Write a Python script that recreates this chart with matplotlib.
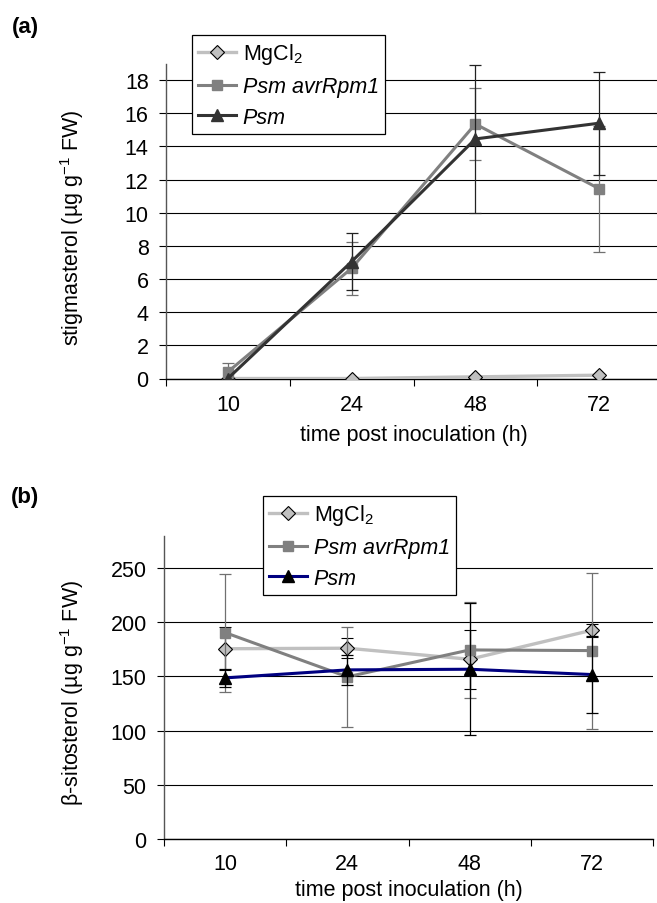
import matplotlib
matplotlib.use("Agg")
import matplotlib.pyplot as plt
from matplotlib.ticker import FixedLocator, NullFormatter

plt.rcParams['font.family'] = ['Liberation Sans', 'DejaVu Sans']
plt.rcParams['mathtext.fontset'] = 'custom'
plt.rcParams['mathtext.rm'] = 'Liberation Sans'
plt.rcParams['mathtext.it'] = 'Liberation Sans:italic'

# ---------------- data ----------------
times = ["10", "24", "48", "72"]

# (a) stigmasterol
stig_mgcl2 = [0.0, 0.0, 0.1, 0.2]
stig_mgcl2_err = [0.0, 0.0, 0.0, 0.0]
stig_avr = [0.4, 6.65, 15.35, 11.45]
stig_avr_err = [0.55, 1.6, 2.2, 3.8]
stig_psm = [0.0, 7.05, 14.45, 15.4]
stig_psm_err = [0.0, 1.7, 4.45, 3.1]

# (b) beta-sitosterol
sito_mgcl2 = [175.5, 176.0, 165.8, 192.6]
sito_mgcl2_err = [20.0, 9.0, 27.0, 6.0]
sito_avr = [190.4, 149.6, 174.4, 173.8]
sito_avr_err = [54.5, 46.0, 44.0, 72.0]
sito_psm = [148.6, 156.0, 156.6, 151.7]
sito_psm_err = [8.0, 14.0, 61.0, 35.5]

labels = ["MgCl$_2$", "Psm avrRpm1", "Psm"]

W, H = 657, 904
fig = plt.figure(figsize=(W / 100, H / 100), dpi=100)

FS = 15.5


def make_axes(rect, ymax, yticks, ylabel, ylabel_x, ylabel_dy, xlabel_pad, tick_pad):
    ax = fig.add_axes(rect)
    ax.set_xlim(-0.5, 3.5)
    ax.set_ylim(0, ymax)
    ax.spines['top'].set_visible(False)
    ax.spines['right'].set_visible(False)
    ax.spines['left'].set_color('#555555')
    ax.spines['bottom'].set_color('#000000')
    ax.spines['left'].set_linewidth(1.0)
    ax.spines['bottom'].set_linewidth(1.0)
    ax.set_yticks(yticks)
    ax.set_yticklabels([str(v) for v in yticks], fontsize=FS)
    ax.tick_params(axis='y', length=5, width=0.8, direction='out', pad=7.5)
    ax.xaxis.set_major_locator(FixedLocator([-0.5, 0.5, 1.5, 2.5, 3.5]))
    ax.xaxis.set_major_formatter(NullFormatter())
    ax.xaxis.set_minor_locator(FixedLocator([0, 1, 2, 3]))
    ax.set_xticklabels(times, minor=True, fontsize=FS)
    ax.tick_params(axis='x', which='major', length=5, width=0.8, direction='out')
    ax.tick_params(axis='x', which='minor', length=0, pad=tick_pad)
    ax.grid(axis='y', color='#000000', linewidth=0.8)
    ax.set_axisbelow(True)
    ax.set_ylabel(ylabel, fontsize=FS)
    x0, y0, w, h = rect
    ax.yaxis.set_label_coords(ylabel_x / W, y0 + h / 2 - ylabel_dy / H,
                              transform=fig.transFigure)
    ax.set_xlabel("time post inoculation (h)", fontsize=FS, labelpad=xlabel_pad)
    return ax


def style_legend(leg):
    leg.get_frame().set_linewidth(0.9)
    for t in leg.get_texts()[1:]:
        t.set_fontstyle('italic')


# ---------- panel (a) ----------
xs = list(range(len(times)))
axa = make_axes([166 / W, 1 - 379.5 / H, 495 / W, (379.5 - 65) / H], 18.97,
                list(range(0, 19, 2)), "stigmasterol (µg g$^{-1}$ FW)", 86, 6, 7, 11)
ha = []
ha.append(axa.errorbar(xs, stig_mgcl2, yerr=stig_mgcl2_err, color='#C0C0C0', lw=2.4,
                       marker='D', ms=7, mfc='#C0C0C0', mec='#000000', mew=0.8,
                       ecolor='#000000', elinewidth=0.9, capsize=4, capthick=0.9, zorder=3))
ha.append(axa.errorbar(xs, stig_avr, yerr=stig_avr_err, color='#808080', lw=2.2,
                       marker='s', ms=7.5, mfc='#808080', mec='#808080',
                       ecolor='#707070', elinewidth=0.9, capsize=4, capthick=0.9, zorder=4))
ha.append(axa.errorbar(xs, stig_psm, yerr=stig_psm_err, color='#333333', lw=2.2,
                       marker='^', ms=8, mfc='#333333', mec='#333333',
                       ecolor='#222222', elinewidth=0.9, capsize=4, capthick=0.9, zorder=5))
leg = axa.legend([h[0] for h in ha], labels, loc='upper left',
                 bbox_to_anchor=(192 / W, 1 - 36 / H), bbox_transform=fig.transFigure,
                 fontsize=FS, frameon=True, fancybox=False, framealpha=1,
                 edgecolor='#000000', borderpad=0.3, labelspacing=0.45,
                 handlelength=1.75, handletextpad=0.3, borderaxespad=0)
style_legend(leg)

# ---------- panel (b) ----------
axb = make_axes([164 / W, 1 - 840 / H, 489 / W, (840 - 537) / H], 279.5,
                list(range(0, 251, 50)), "β-sitosterol (µg g$^{-1}$ FW)", 86, 4, 3.5, 10)
hb = []
hb.append(axb.errorbar(xs, sito_mgcl2, yerr=sito_mgcl2_err, color='#C0C0C0', lw=2.4,
                       marker='D', ms=7, mfc='#C0C0C0', mec='#000000', mew=0.8,
                       ecolor='#000000', elinewidth=0.9, capsize=4, capthick=0.9, zorder=3))
hb.append(axb.errorbar(xs, sito_avr, yerr=sito_avr_err, color='#808080', lw=2.2,
                       marker='s', ms=7.5, mfc='#808080', mec='#808080',
                       ecolor='#707070', elinewidth=0.9, capsize=4, capthick=0.9, zorder=4))
hb.append(axb.errorbar(xs, sito_psm, yerr=sito_psm_err, color='#000080', lw=2.2,
                       marker='^', ms=8, mfc='#000000', mec='#000000',
                       ecolor='#000000', elinewidth=0.9, capsize=4, capthick=0.9, zorder=5))
legb = axb.legend([h[0] for h in hb], labels, loc='upper left',
                  bbox_to_anchor=(263 / W, 1 - 497 / H), bbox_transform=fig.transFigure,
                  fontsize=FS, frameon=True, fancybox=False, framealpha=1,
                  edgecolor='#000000', borderpad=0.3, labelspacing=0.45,
                  handlelength=1.75, handletextpad=0.3, borderaxespad=0)
style_legend(legb)

fig.text(12 / W, 1 - 28 / H, "(a)", fontsize=16, fontweight='bold', va='center', ha='left')
fig.text(11 / W, 1 - 498 / H, "(b)", fontsize=16, fontweight='bold', va='center', ha='left')

fig.savefig("out.png", dpi=100)
